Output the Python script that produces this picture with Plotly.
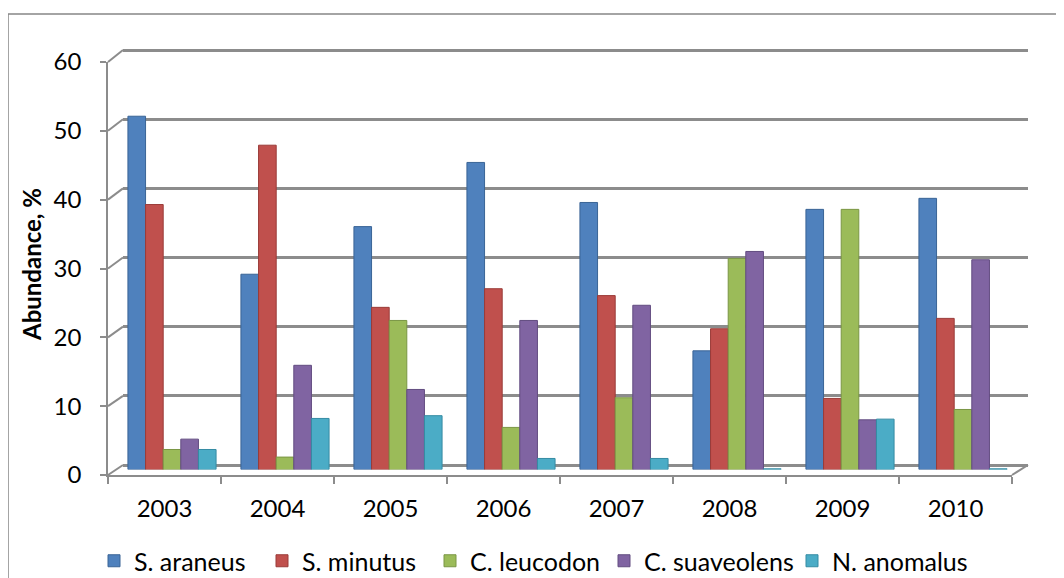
import plotly.graph_objects as go

years = ["2003", "2004", "2005", "2006", "2007", "2008", "2009", "2010"]
series_names = ["S. araneus", "S. minutus", "C. leucodon", "C. suaveolens", "N. anomalus"]
s_araneus = [51.2, 28.3, 35.2, 44.5, 38.7, 17.2, 37.7, 39.3]
s_minutus = [38.4, 47.0, 23.5, 26.2, 25.2, 20.4, 10.3, 21.9]
c_leucodon = [2.9, 1.8, 21.6, 6.1, 10.4, 30.6, 37.7, 8.7]
c_suaveolens = [4.4, 15.1, 11.6, 21.6, 23.8, 31.6, 7.2, 30.4]
n_anomalus = [2.9, 7.4, 7.8, 1.6, 1.6, 0.1, 7.3, 0.1]
y_ticks = [0, 10, 20, 30, 40, 50, 60]

colors = ["#4F81BD", "#C0504D", "#9BBB59", "#8064A2", "#4BACC6"]
edges = ["#3A6496", "#9A3B38", "#7A9644", "#624C80", "#358BA3"]
values = [s_araneus, s_minutus, c_leucodon, c_suaveolens, n_anomalus]
legend_left_px = [110, 278, 446, 620, 808]  # page x of each legend swatch

OFF = 8  # page body margin offset
W, H = 1064 - OFF, 578 - OFF
L, R, T, B = 100, 30, 32, 103
pw, ph = W - L - R, H - T - B

def px_x(p):
    # p is a page pixel x
    return (p - OFF - L) / pw

def px_y(p):
    # p is a page pixel y
    return (H - B - (p - OFF)) / ph

# back wall (grid) = x/y, bars (mid depth) = x2/y2, front frame (axes) = x3/y3
front_x = [px_x(108), px_x(1012)]
front_y = [px_y(475), px_y(62)]
back_x = [px_x(123), px_x(1028)]
ext = 1.0  # extra range so the top gridline is not at the edge
back_scale = (465 - 50) / 60
back_y = [px_y(465), px_y(50 - ext * back_scale)]
bar_x = [px_x(115.5), px_x(1019.5)]
bar_y = [px_y(469.5), px_y(55.5)]

fig = go.Figure()
fig.add_trace(go.Scatter(x=[0], y=[0], xaxis="x", yaxis="y", mode="markers",
                         marker=dict(opacity=0), showlegend=False, hoverinfo="skip"))
legend_ids = ["legend"] + ["legend%d" % (i + 2) for i in range(len(series_names) - 1)]
for name, vals, c, e, lg in zip(series_names, values, colors, edges, legend_ids):
    fig.add_trace(go.Bar(x=years, y=vals, name=name, xaxis="x2", yaxis="y2", legend=lg,
                         marker=dict(color=c, line=dict(color=e, width=1))))
fig.add_trace(go.Scatter(x=years, y=[0] * len(years), xaxis="x3", yaxis="y3", mode="markers",
                         marker=dict(opacity=0), showlegend=False, hoverinfo="skip"))

grid_c = "#8C8C8C"
fig.update_layout(
    width=W, height=H,
    margin=dict(l=L, r=R, t=T, b=B, autoexpand=False),
    paper_bgcolor="white", plot_bgcolor="rgba(0,0,0,0)",
    font=dict(family="Lato, Carlito, sans-serif", size=24, color="#000000"),
    barmode="group", bargap=0.22, bargroupgap=0,
    showlegend=True,
    xaxis=dict(domain=back_x, range=[-0.5, 7.5], visible=False, anchor="y"),
    yaxis=dict(domain=back_y, range=[0, 60 + ext], tickvals=y_ticks, showticklabels=False,
               ticks="", showgrid=True, gridcolor=grid_c, gridwidth=3, zeroline=True,
               zerolinecolor=grid_c, zerolinewidth=3, showline=False, anchor="x"),
    xaxis2=dict(domain=bar_x, type="category", categoryorder="array", categoryarray=years,
                range=[-0.5, 7.5], visible=False, anchor="y2"),
    yaxis2=dict(domain=bar_y, range=[0, 60], visible=False, anchor="x2"),
    xaxis3=dict(domain=front_x, type="category", categoryorder="array", categoryarray=years,
                range=[-0.5, 7.5], showline=True, linecolor=grid_c, linewidth=2,
                ticks="outside", tickson="boundaries", ticklen=7, tickcolor=grid_c, tickwidth=1.5,
                showgrid=False, zeroline=False, anchor="y3", ticklabelstandoff=11),
    yaxis3=dict(domain=front_y, range=[0, 60], tickvals=y_ticks, showline=True,
                linecolor=grid_c, linewidth=1.5, ticks="outside", ticklen=6, tickcolor=grid_c,
                tickwidth=1.5, showgrid=False, zeroline=False, anchor="x3", ticklabelstandoff=14),
)
for lg, lx in zip(legend_ids, legend_left_px):
    fig.update_layout({lg: dict(orientation="h", x=px_x(lx - 16), xanchor="left",
                                y=px_y(561), yanchor="middle", font=dict(size=25),
                                itemwidth=30, bgcolor="rgba(0,0,0,0)")})

shapes = []
for v in y_ticks:
    yf = front_y[0] + v / 60 * (front_y[1] - front_y[0])
    yb = px_y(465 - v * back_scale)
    shapes.append(dict(type="line", xref="paper", yref="paper", x0=front_x[0], y0=yf,
                       x1=back_x[0], y1=yb, line=dict(color=grid_c, width=2), layer="below"))
shapes.append(dict(type="line", xref="paper", yref="paper", x0=front_x[1], y0=front_y[0],
                   x1=back_x[1], y1=back_y[0], line=dict(color=grid_c, width=2), layer="below"))
shapes.append(dict(type="rect", xref="paper", yref="paper", x0=px_x(8), y0=px_y(600),
                   x1=px_x(1080), y1=px_y(14), line=dict(color="#878787", width=1.5),
                   fillcolor="rgba(0,0,0,0)", layer="below"))
fig.update_layout(shapes=shapes)

fig.add_annotation(text="<b>Abundance, %</b>", xref="paper", yref="paper", x=px_x(31),
                   y=px_y(265), textangle=-90, showarrow=False, xanchor="center",
                   yanchor="middle", font=dict(size=24))

fig.write_html("out.html")
